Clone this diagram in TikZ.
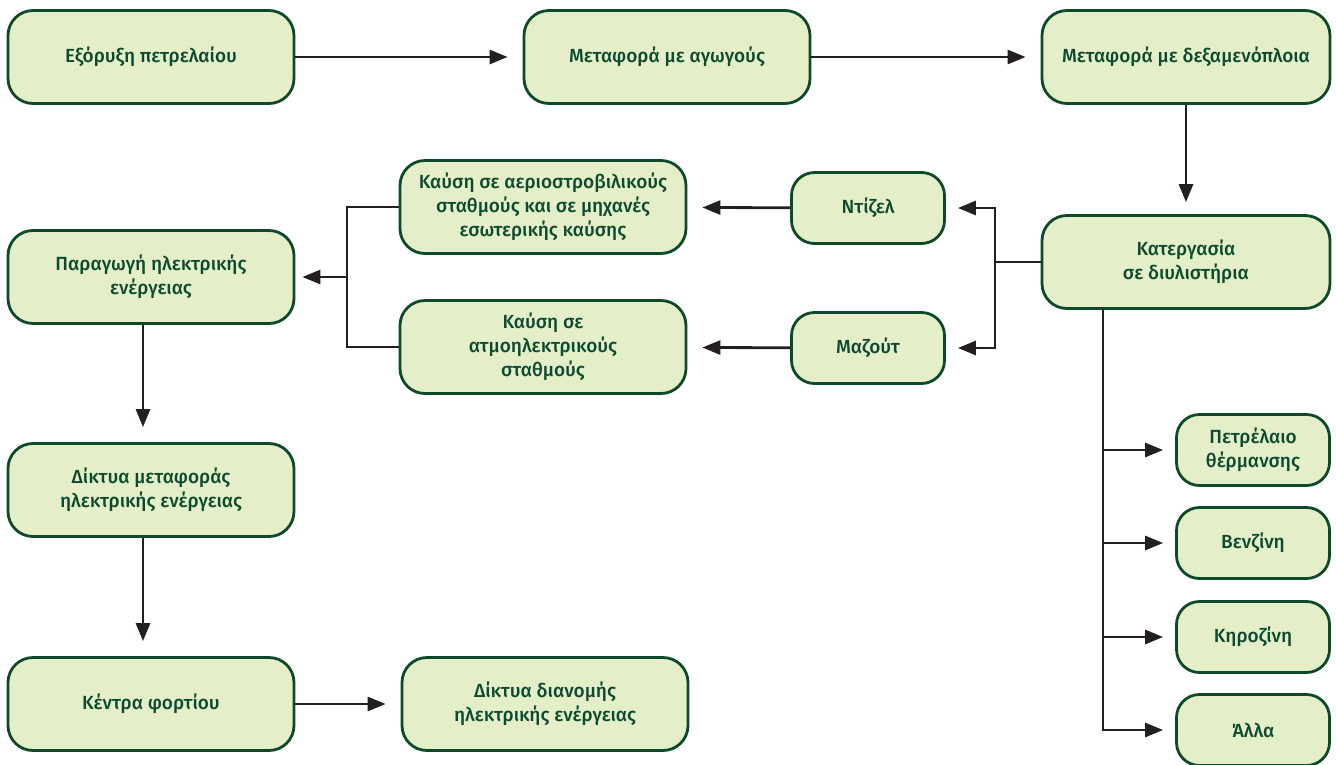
\documentclass[tikz,border=0pt]{standalone}
\usepackage{fontspec}
\setmainfont{Fira Sans}[UprightFont=* Medium]
\usetikzlibrary{arrows.meta,calc}
\definecolor{boxfill}{HTML}{E4EEC8}
\definecolor{boxline}{HTML}{0E4A2A}
\definecolor{boxtext}{HTML}{0B4A2E}
\definecolor{arrcol}{HTML}{231F20}
\begin{document}
\begin{tikzpicture}[x=1pt,y=-1pt,
  box/.style={draw=boxline,fill=boxfill,line width=2.8pt,rounded corners=25pt,
    text=boxtext,align=center,inner sep=0pt,font=\fontsize{19}{24}\selectfont},
  big/.style={box,minimum width=286pt,minimum height=93pt},
  small/.style={box,minimum width=153pt,minimum height=71pt,rounded corners=23pt},
  ln/.style={draw=arrcol,line width=2.8pt},
  arr/.style={ln,-{Triangle[length=18pt,width=14pt]},shorten >=15pt}]
\useasboundingbox (0,0) rectangle (1336,764);
\node[big] (ext) at (151,57) {Εξόρυξη πετρελαίου};
\node[big] (agw) at (667,57) {Μεταφορά με αγωγούς};
\node[big,minimum width=288pt] (dex) at (1186,57) {Μεταφορά με δεξαμενόπλοια};
\node[big,minimum width=288pt] (kat) at (1186,262) {Κατεργασία\\σε διυλιστήρια};
\node[small] (diz) at (868,208) {Ντίζελ};
\node[small] (maz) at (868,348) {Μαζούτ};
\node[big] (kg) at (543,207) {Καύση σε αεριοστροβιλικούς\\σταθμούς και σε μηχανές\\εσωτερικής καύσης};
\node[big] (ka) at (543,347) {Καύση σε\\ατμοηλεκτρικούς\\σταθμούς};
\node[big] (par) at (151,277) {Παραγωγή ηλεκτρικής\\ενέργειας};
\node[big] (dm) at (151,490) {Δίκτυα μεταφοράς\\ηλεκτρικής ενέργειας};
\node[big] (kf) at (151,704) {Κέντρα φορτίου};
\node[big] (dd) at (545,704) {Δίκτυα διανομής\\ηλεκτρικής ενέργειας};
\node[small] (pth) at (1253,450) {Πετρέλαιο\\θέρμανσης};
\node[small] (ven) at (1253,543) {Βενζίνη};
\node[small] (kir) at (1253,637) {Κηροζίνη};
\node[small] (all) at (1253,730) {Άλλα};
% top row
\draw[arr] (ext) -- (agw);
\draw[arr] (agw) -- (dex);
\draw[arr,shorten >=12pt] (dex) -- (kat);
% refinery to fuels
\coordinate (j1) at (995,262);
\draw[ln] (kat.west) -- (j1);
\draw[arr,shorten >=12pt] (j1) |- (diz.east);
\draw[arr,shorten >=12pt] (j1) |- (maz.east);
\draw[arr] (diz) -- (kg);
\draw[arr] (maz) -- (ka);
% combustion to generation
\coordinate (j2) at (347,277);
\draw[ln] (kg.west) -| (j2);
\draw[ln] (ka.west) -| (j2);
\draw[arr,shorten >=7pt] (j2) -- (par.east);
% left column
\draw[arr] ([xshift=-8pt]par.south) -- ([xshift=-8pt]dm.north);
\draw[arr] ([xshift=-8pt]dm.south) -- ([xshift=-8pt]kf.north);
\draw[arr] (kf) -- (dd);
% refinery products
\coordinate (j3) at (1103,309);
\draw[arr,shorten >=12pt] (j3) |- (pth.west);
\draw[arr,shorten >=12pt] (j3) |- (ven.west);
\draw[arr,shorten >=12pt] (j3) |- (kir.west);
\draw[arr,shorten >=12pt] (j3) |- (all.west);
\end{tikzpicture}
\end{document}
